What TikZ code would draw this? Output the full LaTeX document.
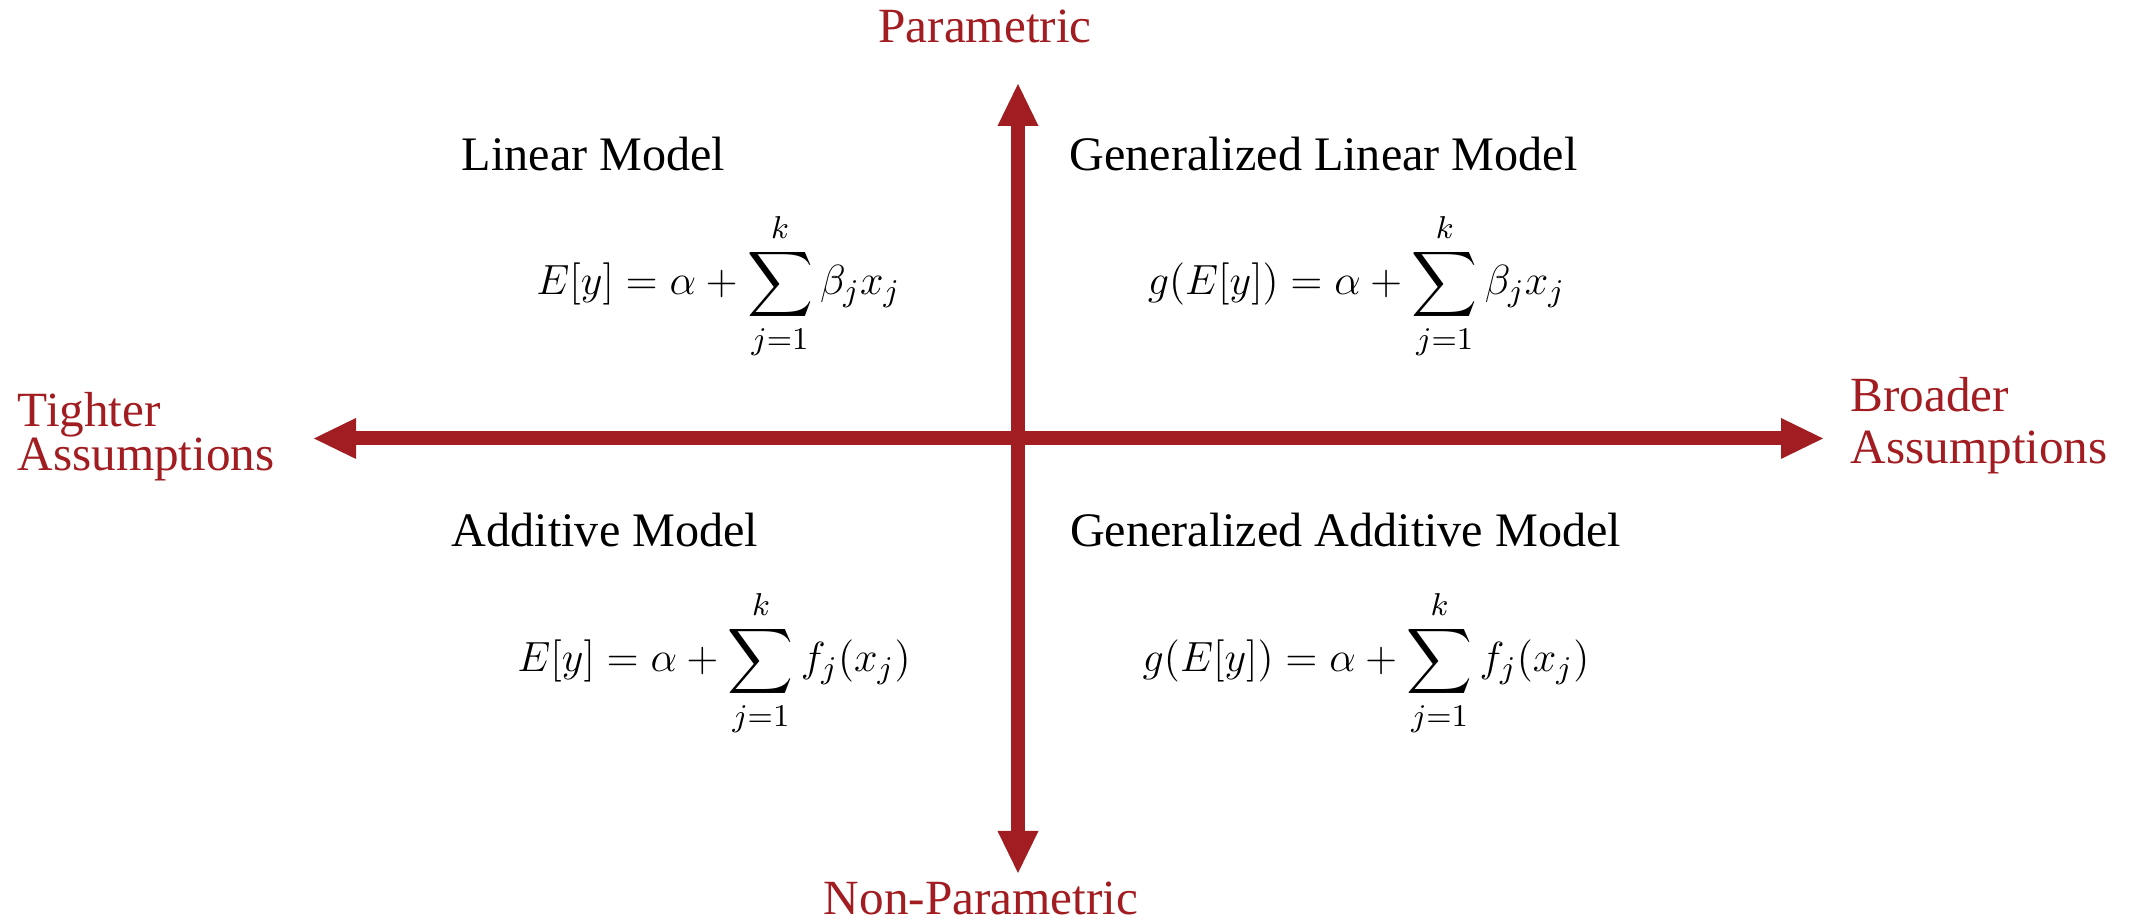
\documentclass[tikz,border=0pt]{standalone}
\usepackage{amsmath,amssymb}
\usepackage{fontspec}
\setmainfont{Liberation Serif}
\usetikzlibrary{arrows.meta}
\definecolor{axisred}{RGB}{162,29,33}

\begin{document}
\begin{tikzpicture}[
    axis/.style={draw=axisred, line width=1.4mm,
        {Triangle[length=4.2mm, width=4.1mm, line width=0pt]}-{Triangle[length=4.2mm, width=4.1mm, line width=0pt]}},
    axislabel/.style={text=axisred, inner sep=0pt, font=\fontsize{14}{12.5}\selectfont},
    modeltitle/.style={inner sep=0pt, font=\fontsize{13.7}{16}\selectfont},
    formula/.style={inner sep=0pt, font=\fontsize{13}{15}\selectfont}
]
    \useasboundingbox (0, 0) rectangle (21.29, 9.22);

    % Axes
    \coordinate (west) at (3.14, 4.835);
    \coordinate (east) at (18.23, 4.835);
    \coordinate (north) at (10.18, 8.38);
    \coordinate (south) at (10.18, 0.49);
    \draw[axis] (west) -- (east);
    \draw[axis] (south) -- (north);

    % Axis labels (base anchor sits on the last line)
    \node[axislabel, anchor=base] (param) at (9.85, 8.793) {Parametric};
    \node[axislabel, anchor=base] (nonparam) at (9.81, 0.07) {Non-Parametric};
    \node[axislabel, anchor=base west, align=left] (tighter) at (0.17, 4.513) {Tighter\\Assumptions};
    \node[axislabel, anchor=base west, align=left, font=\fontsize{14}{14.8}\selectfont] (broader) at (18.50, 4.58) {Broader\\Assumptions};

    % Upper quadrants
    \node[modeltitle, anchor=base] (lmtitle) at (5.935, 7.51) {Linear Model};
    \node[formula, anchor=base] (lmeq) at (7.185, 6.27) {$\displaystyle E[y] = \alpha + \sum_{j=1}^{k} \beta_j x_j$};
    \node[modeltitle, anchor=base] (glmtitle) at (13.235, 7.51) {Generalized Linear Model};
    \node[formula, anchor=base] (glmeq) at (13.565, 6.27) {$\displaystyle g(E[y]) = \alpha + \sum_{j=1}^{k} \beta_j x_j$};

    % Lower quadrants
    \node[modeltitle, anchor=base] (amtitle) at (6.05, 3.75) {Additive Model};
    \node[formula, anchor=base] (ameq) at (7.14, 2.50) {$\displaystyle E[y] = \alpha + \sum_{j=1}^{k} f_j(x_j)$};
    \node[modeltitle, anchor=base] (gamtitle) at (13.455, 3.75) {Generalized Additive Model};
    \node[formula, anchor=base] (gameq) at (13.66, 2.50) {$\displaystyle g(E[y]) = \alpha + \sum_{j=1}^{k} f_j(x_j)$};
\end{tikzpicture}
\end{document}
